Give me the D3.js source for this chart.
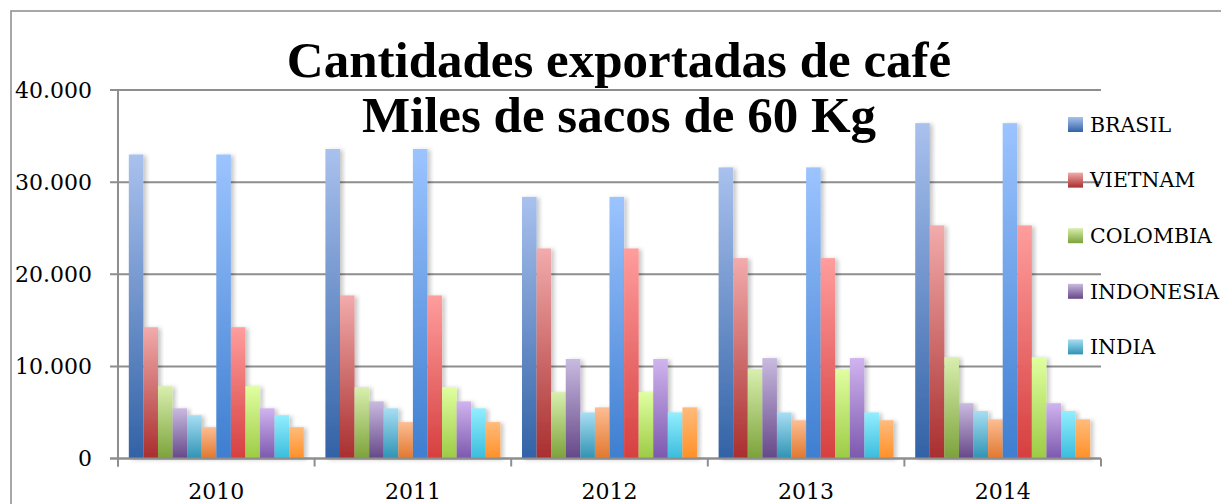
<!DOCTYPE html>
<html>
<head>
<meta charset="utf-8">
<script src="https://cdnjs.cloudflare.com/ajax/libs/d3/7.8.5/d3.min.js"></script>
<style>
    body { margin: 0; background: #fff; }
    svg { display: block; }
</style>
</head>
<body>
<div id="chart"></div>
<script>
const years = ['2010', '2011', '2012', '2013', '2014'];
const seriesNames = ['BRASIL', 'VIETNAM', 'COLOMBIA', 'INDONESIA', 'INDIA', 'OTROS'];
const legendNames = ['BRASIL', 'VIETNAM', 'COLOMBIA', 'INDONESIA', 'INDIA'];
const brasil = [33000, 33600, 28400, 31600, 36400];
const vietnam = [14250, 17700, 22800, 21750, 25300];
const colombia = [7850, 7750, 7200, 9700, 11000];
const indonesia = [5450, 6200, 10800, 10900, 6000];
const india = [4700, 5450, 5000, 5000, 5150];
const otros = [3400, 3950, 5550, 4150, 4250];
const yTicks = [0, 10000, 20000, 30000, 40000];
const titleLines = ['Cantidades exportadas de café', 'Miles de sacos de 60 Kg'];

// each series is drawn twice per year (two copies of the same table)
const copies = ['a', 'b'];
const seriesValues = [brasil, vietnam, colombia, indonesia, india, otros];

const gradA = [['#a9c1ee', '#3262a6'], ['#f2abab', '#a92e2e'], ['#d8efae', '#7ca23a'],
               ['#c9bae0', '#654888'], ['#a7def4', '#2f93b3'], ['#fdbd93', '#e0782e']];
const gradB = [['#9cc4ff', '#3e7ed0'], ['#ff9d9d', '#d63f3f'], ['#e0ffa0', '#9ccb45'],
               ['#d0b4ef', '#7c58ae'], ['#92eeff', '#3abcdc'], ['#ffbb7b', '#ff9028']];

const W = 1221, H = 504;
const margin = {left: 118, right: 120, top: 90, bottom: 45.5};
const labelFont = "'DejaVu Serif', serif";

let svg = d3.select('#chart')
    .append('svg')
    .attr('width', W)
    .attr('height', H);

let defs = svg.append('defs');

copies.forEach(function (c, ci) {
    let grads = ci == 0 ? gradA : gradB;
    seriesNames.forEach(function (s, si) {
        let lg = defs.append('linearGradient')
            .attr('id', 'g-' + c + si)
            .attr('x1', 0).attr('y1', 0)
            .attr('x2', 0).attr('y2', 1);
        lg.append('stop').attr('offset', '0%').attr('stop-color', grads[si][0]);
        lg.append('stop').attr('offset', '100%').attr('stop-color', grads[si][1]);
    });
});

defs.append('filter')
    .attr('id', 'shadow')
    .attr('x', '-20%').attr('y', '-5%')
    .attr('width', '160%').attr('height', '115%')
    .append('feDropShadow')
    .attr('dx', 3).attr('dy', 1)
    .attr('stdDeviation', 2)
    .attr('flood-color', '#000')
    .attr('flood-opacity', 0.22);

// outer frame (only left and top visible)
svg.append('path')
    .attr('d', 'M11,' + H + 'V11H' + W)
    .attr('fill', 'none')
    .attr('stroke', '#8a8a8a')
    .attr('stroke-width', 1.5);

let x0 = d3.scaleBand()
    .domain(years)
    .range([margin.left, W - margin.right]);

let bw = x0.bandwidth();
let keys = [];
copies.forEach(c => seriesNames.forEach((s, si) => keys.push(c + si)));

let x1 = d3.scaleBand()
    .domain(keys)
    .range([bw * 0.055, bw * 0.945]);

let y = d3.scaleLinear()
    .domain([0, 40000])
    .range([H - margin.bottom, margin.top]);

let locale = d3.formatLocale({decimal: ',', thousands: '.', grouping: [3], currency: ['', '']});
let fmt = locale.format(',');

// gridlines
svg.append('g')
    .selectAll('line')
    .data(yTicks)
    .join('line')
    .attr('x1', margin.left - 8)
    .attr('x2', W - margin.right)
    .attr('y1', d => y(d))
    .attr('y2', d => y(d))
    .attr('stroke', '#8e8e8e')
    .attr('stroke-width', 2);

svg.append('g')
    .selectAll('text')
    .data(yTicks)
    .join('text')
    .attr('x', 92)
    .attr('y', d => y(d))
    .attr('dy', '0.36em')
    .attr('text-anchor', 'end')
    .style('font-family', labelFont)
    .style('font-size', '22px')
    .attr('fill', '#000')
    .text(d => fmt(d));

// bars
let rows = years.map((yr, i) => {
    let r = {year: yr};
    copies.forEach(c => seriesValues.forEach((v, si) => r[c + si] = v[i]));
    return r;
});

svg.append('g')
    .selectAll('g')
    .data(rows)
    .join('g')
    .attr('transform', d => 'translate(' + x0(d.year) + ',0)')
    .selectAll('rect')
    .data(d => keys.map(k => ({key: k, value: d[k]})))
    .join('rect')
    .attr('x', d => x1(d.key))
    .attr('y', d => y(d.value))
    .attr('width', x1.bandwidth())
    .attr('height', d => y(0) - y(d.value))
    .attr('fill', d => 'url(#g-' + d.key + ')')
    .attr('filter', 'url(#shadow)');

// axes lines
let axisColor = '#8e8e8e';
svg.append('line')
    .attr('x1', margin.left).attr('x2', margin.left)
    .attr('y1', margin.top).attr('y2', y(0) + 8)
    .attr('stroke', axisColor).attr('stroke-width', 2);

svg.append('line')
    .attr('x1', margin.left - 8).attr('x2', W - margin.right)
    .attr('y1', y(0)).attr('y2', y(0))
    .attr('stroke', axisColor).attr('stroke-width', 2);

let xEdges = years.map(d => x0(d)).concat([x0(years[years.length - 1]) + bw]);
svg.append('g')
    .selectAll('line')
    .data(xEdges)
    .join('line')
    .attr('x1', d => d).attr('x2', d => d)
    .attr('y1', y(0)).attr('y2', y(0) + 8)
    .attr('stroke', axisColor).attr('stroke-width', 2);

svg.append('g')
    .selectAll('text')
    .data(years)
    .join('text')
    .attr('x', d => x0(d) + bw / 2)
    .attr('y', 499)
    .attr('text-anchor', 'middle')
    .style('font-family', labelFont)
    .style('font-size', '22px')
    .attr('fill', '#000')
    .text(d => d);

// title
svg.append('g')
    .selectAll('text')
    .data(titleLines)
    .join('text')
    .attr('x', 619)
    .attr('y', (d, i) => 77 + i * 55)
    .attr('text-anchor', 'middle')
    .style('font-family', "'Liberation Serif', serif")
    .style('font-weight', 'bold')
    .style('font-size', '51px')
    .attr('fill', '#000')
    .text(d => d);

// legend
let legend = svg.append('g')
    .selectAll('g')
    .data(legendNames)
    .join('g')
    .attr('transform', (d, i) => 'translate(1068,' + (124.5 + i * 55.6) + ')');

legend.append('rect')
    .attr('x', 0)
    .attr('y', -7.5)
    .attr('width', 15)
    .attr('height', 15)
    .attr('fill', (d, i) => 'url(#g-a' + i + ')');

legend.append('text')
    .attr('x', 22)
    .attr('y', 0)
    .attr('dy', '0.36em')
    .style('font-family', labelFont)
    .style('font-size', '20.5px')
    .attr('fill', '#000')
    .text(d => d);
</script>
</body>
</html>
